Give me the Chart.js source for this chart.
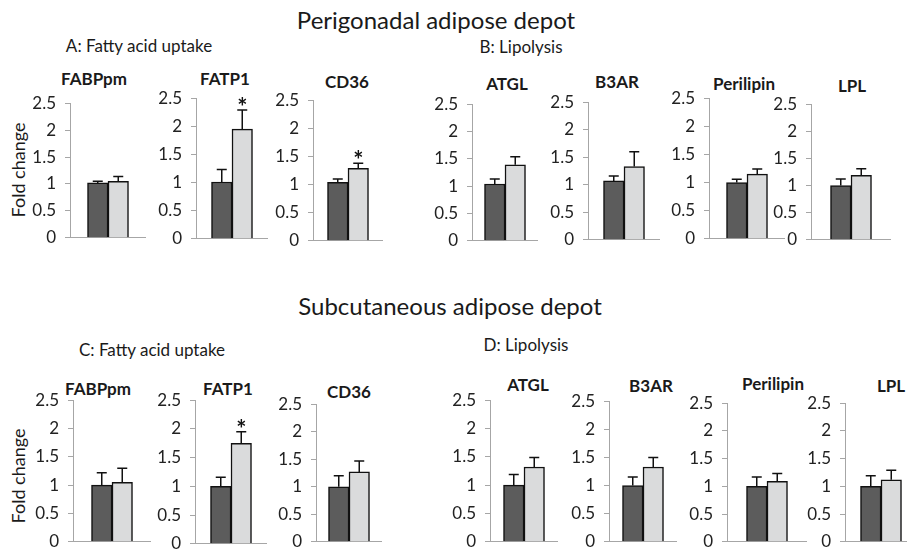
<!DOCTYPE html>
<html>
<head>
<meta charset="utf-8">
<script src="https://cdn.jsdelivr.net/npm/chart.js@4.4.1/dist/chart.umd.min.js"></script>
<style>
    body { margin: 0; width: 907px; height: 555px; background: #fff; position: relative; overflow: hidden; font-family: Lato, sans-serif; color: #1a1a1a; }
    .lbl { position: absolute; transform: translate(-50%, -50%); white-space: nowrap; line-height: 1; }
    .depot { font-size: 24px; }
    .group { font-size: 17px; }
    .gene { font-size: 17px; font-weight: bold; }
    .ylab { font-size: 18px; transform: translate(-50%, -50%) rotate(-90deg); }
    .panel { position: absolute; }
</style>
</head>
<body>
<div class="lbl depot" style="left:436px; top:20px;">Perigonadal adipose depot</div>
<div class="lbl group" style="left:139px; top:45px;">A: Fatty acid uptake</div>
<div class="lbl group" style="left:521px; top:46px;">B: Lipolysis</div>
<div class="lbl ylab" style="left:18px; top:170px;">Fold change</div>

<div class="lbl depot" style="left:450px; top:306px;">Subcutaneous adipose depot</div>
<div class="lbl group" style="left:152px; top:349px;">C: Fatty acid uptake</div>
<div class="lbl group" style="left:526px; top:344px;">D: Lipolysis</div>
<div class="lbl ylab" style="left:18px; top:476px;">Fold change</div>

<script>
const genes = ['FABPpm', 'FATP1', 'CD36', 'ATGL', 'B3AR', 'Perilipin', 'LPL'];
const yTickValues = [0, 0.5, 1, 1.5, 2, 2.5];

// perigonadal depot (A, B)
const periControl = [1.02, 1.01, 1.04, 1.04, 1.07, 1.00, 1.00];
const periControlErr = [0.03, 0.22, 0.06, 0.09, 0.09, 0.06, 0.12];
const periTreated = [1.05, 1.95, 1.29, 1.39, 1.33, 1.15, 1.19];
const periTreatedErr = [0.09, 0.34, 0.09, 0.15, 0.27, 0.09, 0.12];
const periSignificant = [false, true, true, false, false, false, false];

// subcutaneous depot (C, D)
const subControl = [1.00, 1.00, 1.00, 1.00, 1.00, 1.00, 1.00];
const subControlErr = [0.22, 0.16, 0.20, 0.19, 0.15, 0.17, 0.19];
const subTreated = [1.05, 1.75, 1.27, 1.32, 1.33, 1.09, 1.12];
const subTreatedErr = [0.25, 0.20, 0.20, 0.17, 0.17, 0.14, 0.17];
const subSignificant = [false, true, false, false, false, false, false];

// layout: y-axis x, y of 2.5, y of 0, centre x of the bar pair
const periBoxes = [[70, 98, 243, 108], [196, 93, 244, 232], [313, 95, 246, 348], [472, 99, 246, 505],
    [588, 97, 245, 624], [709, 93, 244, 747], [811, 99, 245, 851]];
const subBoxes = [[73, 395, 547, 112], [195, 395, 549, 231], [316, 399, 547, 349], [490, 395, 547, 524],
    [609, 396, 547, 643], [727, 398, 547, 767], [845, 398, 547, 881]];
const periTitlePos = [[94, 78], [225, 78], [347, 81], [507, 83], [617, 81], [744, 83], [852, 85]];
const subTitlePos = [[98, 388], [228, 388], [349, 391], [528, 384], [651, 385], [773, 383], [891, 385]];

const Y_AXIS_W = 50;
const PAD = 14;
const AXIS_GREY = '#a6a6a6';

const errorBarPlugin = {
    id: 'errorBars',
    afterDatasetsDraw(chart) {
        const ctx = chart.ctx;
        const yScale = chart.scales.y;
        ctx.save();
        chart.data.datasets.forEach((ds, i) => {
            const meta = chart.getDatasetMeta(i);
            meta.data.forEach((bar, j) => {
                const top = yScale.getPixelForValue(ds.data[j] + ds.errors[j]);
                ctx.strokeStyle = '#111';
                ctx.lineWidth = 1.5;
                ctx.beginPath();
                ctx.moveTo(bar.x, bar.y);
                ctx.lineTo(bar.x, top);
                ctx.moveTo(bar.x - 5, top);
                ctx.lineTo(bar.x + 5, top);
                ctx.stroke();
                if (ds.stars && ds.stars[j]) {
                    ctx.fillStyle = '#111';
                    ctx.font = 'bold 24px Lato';
                    ctx.textAlign = 'center';
                    ctx.textBaseline = 'alphabetic';
                    ctx.fillText('*', bar.x, top + 6);
                }
            });
        });
        ctx.restore();
    }
};

document.addEventListener('DOMContentLoaded', function () {
    genes.forEach((gene, i) => {
        drawPanel(gene, periBoxes[i], periTitlePos[i], periControl[i], periControlErr[i], periTreated[i], periTreatedErr[i], periSignificant[i]);
        drawPanel(gene, subBoxes[i], subTitlePos[i], subControl[i], subControlErr[i], subTreated[i], subTreatedErr[i], subSignificant[i]);
    });
});

function drawPanel(gene, box, titlePos, ctrl, ctrlErr, treat, treatErr, sig) {
    const [axisX, topY, bottomY, centreX] = box;
    const plotW = 2 * (centreX - axisX);

    const title = document.createElement('div');
    title.className = 'lbl gene';
    title.style.left = titlePos[0] + 'px';
    title.style.top = titlePos[1] + 'px';
    title.textContent = gene;
    document.body.appendChild(title);

    const wrap = document.createElement('div');
    wrap.className = 'panel';
    wrap.style.left = (axisX - Y_AXIS_W) + 'px';
    wrap.style.top = (topY - PAD) + 'px';
    wrap.style.width = (Y_AXIS_W + plotW) + 'px';
    wrap.style.height = (bottomY - topY + 2 * PAD) + 'px';
    const canvas = document.createElement('canvas');
    wrap.appendChild(canvas);
    document.body.appendChild(wrap);

    new Chart(canvas.getContext('2d'), {
        type: 'bar',
        data: {
            labels: [gene],
            datasets: [{
                label: 'Control',
                data: [ctrl],
                errors: [ctrlErr],
                backgroundColor: '#5c5c5c',
                borderColor: '#111',
                borderWidth: 1.5,
                barThickness: 20.5
            }, {
                label: 'Treated',
                data: [treat],
                errors: [treatErr],
                stars: [sig],
                backgroundColor: '#dadbdc',
                borderColor: '#111',
                borderWidth: 1.5,
                barThickness: 20.5
            }]
        },
        options: {
            responsive: true,
            maintainAspectRatio: false,
            animation: false,
            layout: { padding: { top: PAD, bottom: PAD, left: 0, right: 0 } },
            plugins: { legend: { display: false }, tooltip: { enabled: false }, title: { display: false } },
            scales: {
                x: {
                    ticks: { display: false },
                    grid: { display: false, drawTicks: false },
                    border: { color: AXIS_GREY, width: 1 },
                    afterFit: (scale) => { scale.height = 0; }
                },
                y: {
                    min: 0,
                    max: 2.5,
                    afterBuildTicks: (scale) => { scale.ticks = yTickValues.map(v => ({ value: v })); },
                    ticks: {
                        color: '#222',
                        font: { family: 'Lato', size: 17 },
                        padding: 9,
                        callback: (value) => String(value)
                    },
                    grid: { drawOnChartArea: false, drawTicks: true, tickLength: 5, color: AXIS_GREY },
                    border: { color: AXIS_GREY, width: 1 },
                    afterFit: (scale) => { scale.width = Y_AXIS_W; }
                }
            }
        },
        plugins: [errorBarPlugin]
    });
}
</script>
</body>
</html>
